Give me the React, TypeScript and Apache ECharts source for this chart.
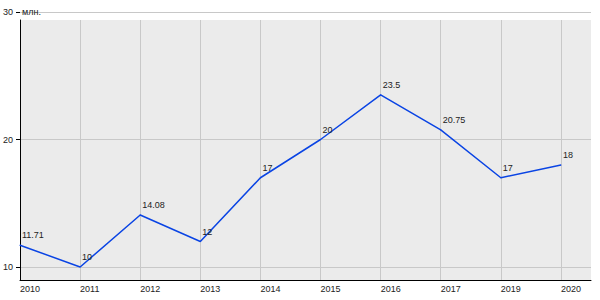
import React, { useEffect, useRef } from "react";
import * as echarts from "echarts";

const categories = ["2010", "2011", "2012", "2013", "2014", "2015", "2016", "2017", "2019", "2020"];
const values = [11.71, 10, 14.08, 12, 17, 20, 23.5, 20.75, 17, 18];
const yMin = 10;
const yMax = 30;
const yStep = 10;
const unitName = "млн.";

const FONT = "Arial, 'Liberation Sans', sans-serif";
const TEXT = "#222";
const GRIDLINE = "#c8c8c8";
const LINE = "#0a44e4";

export default function App() {
  const ref = useRef<HTMLDivElement>(null);
  useEffect(() => {
    document.body.style.margin = "0";
    if (!ref.current) return;
    const chart = echarts.init(ref.current, undefined, { renderer: "svg" });
    const idx = categories.map((_, i) => i);
    const xMax = categories.length - 0.5;
    const seriesData = values.map((v, i) => [i, v]);
    chart.setOption({
      animation: false,
      textStyle: { fontFamily: FONT },
      grid: [
        { left: 20, right: 9, top: 20, bottom: 20, show: true, backgroundColor: "#ebebeb", borderWidth: 0 },
        { left: 20, right: 9, top: 12, bottom: 33, show: false },
      ],
      xAxis: [
        {
          gridIndex: 0,
          type: "value",
          min: 0,
          max: xMax,
          interval: 1,
          axisLine: { show: true, onZero: false, lineStyle: { color: "#000", width: 1 } },
          axisTick: { show: false, customValues: idx },
          axisLabel: {
            customValues: idx,
            formatter: (v: number) => categories[v] ?? "",
            align: "left",
            fontSize: 9,
            color: TEXT,
            margin: 4,
            fontFamily: FONT,
          },
          splitLine: { show: true, lineStyle: { color: GRIDLINE, width: 1 } },
        },
        {
          gridIndex: 1,
          type: "value",
          min: 0,
          max: xMax,
          show: false,
        },
      ],
      yAxis: [
        {
          gridIndex: 0,
          type: "value",
          min: 0,
          max: 1,
          axisLine: { show: true, lineStyle: { color: "#000", width: 1 } },
          axisTick: { show: false },
          axisLabel: { show: false },
          splitLine: { show: false },
        },
        {
          gridIndex: 1,
          type: "value",
          min: yMin,
          max: yMax,
          interval: yStep,
          name: unitName,
          nameLocation: "end",
          nameGap: 0,
          nameTextStyle: { align: "left", verticalAlign: "middle", fontSize: 9, color: TEXT, padding: [0, 0, 0, 2], fontFamily: FONT },
          axisLine: { show: false },
          axisTick: { show: true, length: 4, lineStyle: { color: "#000" } },
          axisLabel: { fontSize: 9, color: TEXT, margin: 7, padding: [0, 0, 8, 0], fontFamily: FONT },
          splitLine: { show: true, lineStyle: { color: GRIDLINE, width: 1 } },
        },
      ],
      series: [
        {
          type: "line",
          xAxisIndex: 1,
          yAxisIndex: 1,
          data: seriesData,
          symbol: "circle",
          symbolSize: 1,
          showSymbol: true,
          itemStyle: { color: LINE },
          lineStyle: { color: LINE, width: 1.5 },
          label: {
            show: true,
            position: "top",
            align: "left",
            distance: 5,
            offset: [2, 0],
            fontSize: 9,
            color: TEXT,
            fontFamily: FONT,
            formatter: (p: any) => String(p.value[1]),
          },
        },
      ],
    });
    return () => chart.dispose();
  }, []);
  return <div ref={ref} style={{ width: 600, height: 300 }} />;
}
